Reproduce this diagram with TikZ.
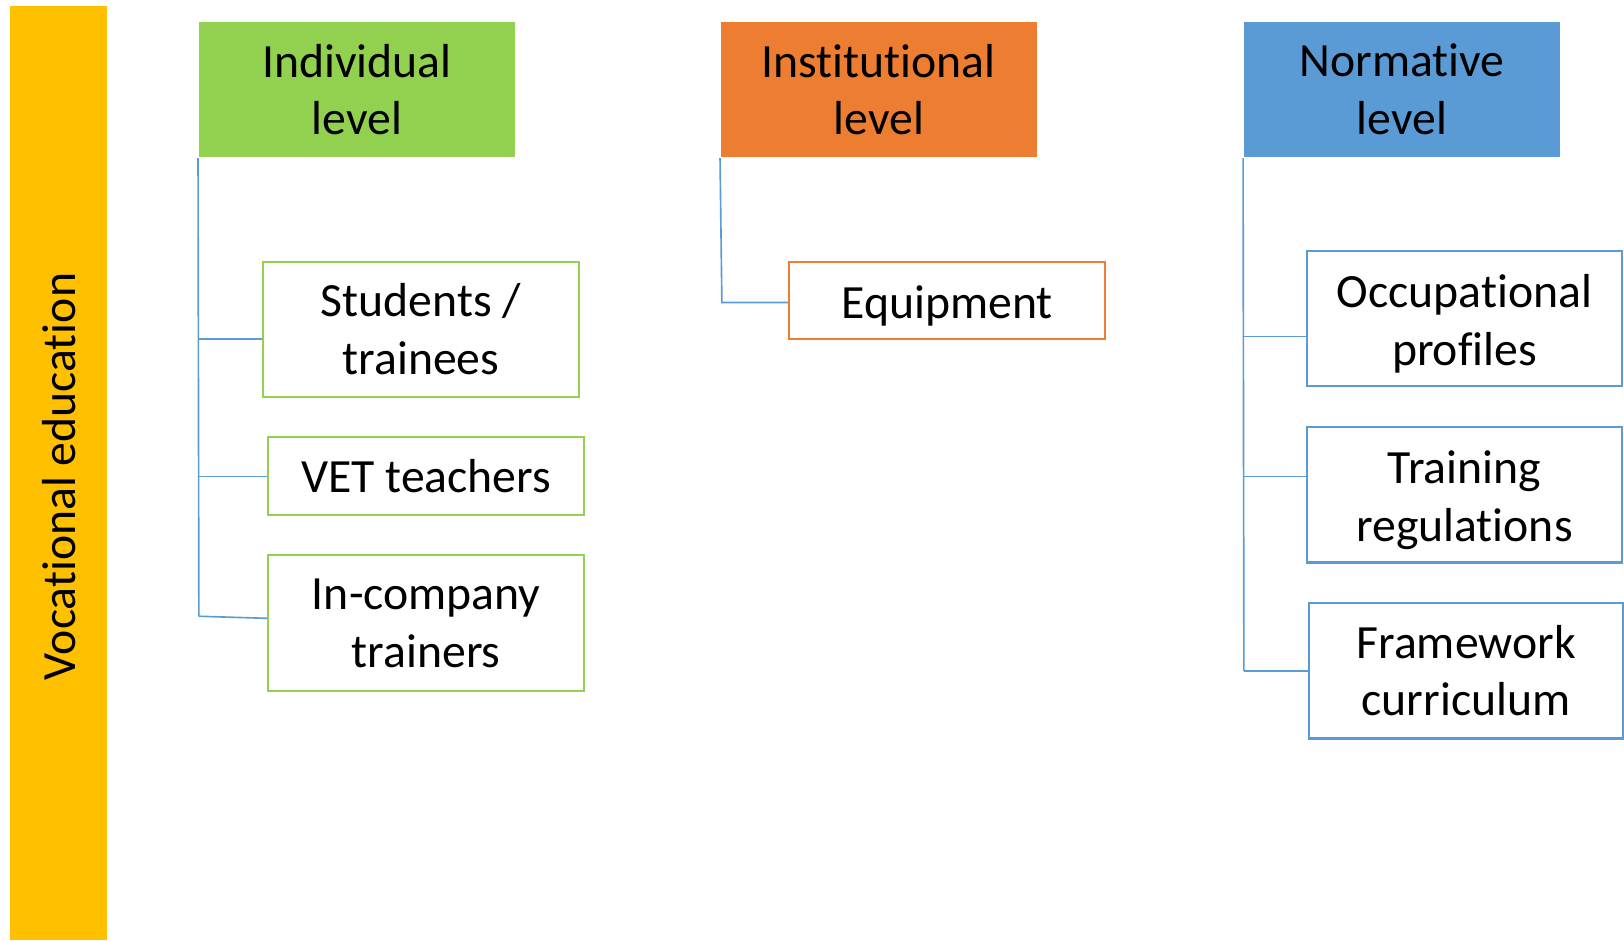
\documentclass[tikz,border=0pt]{standalone}
\usepackage{fontspec}
\setmainfont[Ligatures=NoCommon]{Carlito}
\definecolor{ygold}{HTML}{FFC000}
\definecolor{lgreen}{HTML}{92D050}
\definecolor{lorange}{HTML}{ED7D31}
\definecolor{lblue}{HTML}{5B9BD5}
\begin{document}
\begin{tikzpicture}[x=0.01cm,y=-0.01cm,
  every node/.style={font=\fontsize{13.1pt}{15.9pt}\selectfont, align=center, inner sep=0pt, text=black},
  head/.style={minimum width=3.05cm, minimum height=1.31cm},
  itembox/.style={draw, line width=0.6pt, fill=white, minimum width=3.05cm},
  conn/.style={draw=lblue, line width=0.45pt},
  lowtext/.style={label={[yshift=-0.05cm]center:#1}}]
\useasboundingbox (0,0) rectangle (1568,908);
\fill[ygold] (10,6) rectangle (103,908);
\node[rotate=90] (voc) at (57,460) {Vocational education};

% headers
\node[head, fill=lgreen] (ind) at (344.5,86.5) {Individual\\level};
\node[head, fill=lorange] (ins) at (848.5,86.5) {Institutional\\level};
\node[head, fill=lblue] (nor) at (1353.5,86.5) {Normative\\level};

% individual items
\node[itembox, draw=lgreen, minimum height=1.30cm] (stu) at (406.5,318) {Students /\\trainees};
\node[itembox, draw=lgreen, minimum height=0.75cm] (vet) at (411.5,459.5) {VET teachers};
\node[itembox, draw=lgreen, minimum height=1.31cm] (inc) at (411.5,601.5) {In-company\\trainers};

% institutional item
\node[itembox, draw=lorange, minimum height=0.74cm, lowtext={Equipment}] (equ) at (914.5,290) {};

% normative items
\node[itembox, draw=lblue, minimum width=3.04cm, minimum height=1.31cm, lowtext={Occupational\\profiles}] (occ) at (1414,307.5) {};
\node[itembox, draw=lblue, minimum width=3.04cm, minimum height=1.31cm, lowtext={Training\\regulations}] (tra) at (1414,477.5) {};
\node[itembox, draw=lblue, minimum width=3.03cm, minimum height=1.31cm] (fra) at (1415.5,647.5) {Framework\\curriculum};

% connectors
\coordinate (i0) at (ind.south west);
\coordinate (i1) at (192,327);
\coordinate (i2) at (192,460);
\coordinate (i3) at (192,595);
\draw[conn] (i0) -- (i3);
\draw[conn] (i1) -- (i1 -| stu.west);
\draw[conn] (i2) -- (i2 -| vet.west);
\draw[conn] (i3) -- (inc.west |- 0,597);

\coordinate (s0) at (ins.south west);
\coordinate (s1) at (697,292);
\draw[conn] (s0) -- (s1) -- (s1 -| equ.west);

\coordinate (n0) at (nor.south west);
\coordinate (n1) at (1201,325);
\coordinate (n2) at (1201,460);
\coordinate (n3) at (1201,648);
\draw[conn] (n0) -- (n3);
\draw[conn] (n1) -- (n1 -| occ.west);
\draw[conn] (n2) -- (n2 -| tra.west);
\draw[conn] (n3) -- (n3 -| fra.west);
\end{tikzpicture}
\end{document}
